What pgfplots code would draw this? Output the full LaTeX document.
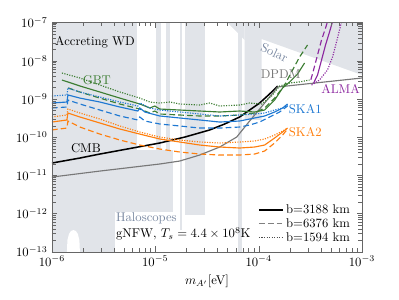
\documentclass[border=0pt]{standalone}
\usepackage{pgfplots}
\pgfplotsset{compat=1.18}
\definecolor{regfill}{RGB}{225,228,233}
\definecolor{gbt}{RGB}{60,125,50}
\definecolor{ska1}{RGB}{30,120,210}
\definecolor{ska2}{RGB}{255,127,14}
\definecolor{alma}{RGB}{140,40,160}
\definecolor{dpdm}{RGB}{120,120,120}
\definecolor{slate}{RGB}{120,135,160}
\begin{document}
\begin{tikzpicture}
\begin{axis}[name=ax, at={(0,0)}, anchor=south west, scale only axis,
 width=244.7pt, height=180.8pt,
 xmode=log, ymode=log, xmin=1e-6, xmax=1e-3, ymin=1e-13, ymax=1e-7,
 ytick={1e-13,1e-12,1e-11,1e-10,1e-9,1e-8,1e-7},
 xtick={1e-6,1e-5,1e-4,1e-3},
 axis on top,
 axis line style={black!60}, tick style={black!60},
 xlabel={$m_{A'}$[eV]},
 legend style={draw=none, fill=none, at={(0.982,0.015)}, anchor=south east, row sep=-1.5pt},
 legend cell align=left,
 legend image code/.code={\draw[#1] (0pt,0pt) -- (19pt,0pt);},
 gbtl/.style={gbt, line width=0.9pt},
 ska1l/.style={ska1, line width=0.9pt},
 ska2l/.style={ska2, line width=0.9pt},
 almal/.style={alma, line width=0.9pt},
 dsh/.style={dash pattern=on 4.5pt off 2.5pt},
 dtt/.style={dash pattern=on 0.9pt off 1.1pt},
]
% ---- excluded regions
\addplot[fill=regfill, draw=none, forget plot] coordinates {(1e-6,1e-7) (4.06e-6,1e-7) (4.06e-6,1e-13) (1e-6,1e-13)} -- cycle;
\addplot[fill=regfill, draw=none, forget plot] coordinates {(4.06e-6,1e-7) (6.62e-6,1e-7) (6.62e-6,1.10e-12) (4.06e-6,1.10e-12)} -- cycle;
\addplot[fill=regfill, draw=none, forget plot] coordinates {(6.62e-6,4.63e-11) (1.476e-5,4.63e-11) (1.476e-5,1.10e-12) (6.62e-6,1.10e-12)} -- cycle;
\addplot[fill=regfill, draw=none, forget plot] coordinates {(1.011e-5,1e-7) (1.130e-5,1e-7) (1.130e-5,1.1e-12) (1.011e-5,1.1e-12)} -- cycle;
\addplot[fill=regfill, draw=none, forget plot] coordinates {(1.263e-5,1e-7) (1.380e-5,1e-7) (1.380e-5,1.1e-12) (1.263e-5,1.1e-12)} -- cycle;
\addplot[fill=regfill, draw=none, forget plot] coordinates {(1.724e-5,1e-7) (1.803e-5,1e-7) (1.803e-5,3.7e-13) (1.724e-5,3.7e-13)} -- cycle;
\addplot[fill=regfill, draw=none, forget plot] coordinates {(1.928e-5,1e-7) (3.008e-5,1e-7) (3.008e-5,9.16e-13) (1.928e-5,9.16e-13)} -- cycle;
\addplot[fill=regfill, draw=none, forget plot] coordinates {(6.27e-5,1e-7) (6.85e-5,1e-7) (6.85e-5,1e-13) (6.27e-5,1e-13)} -- cycle;
\addplot[fill=regfill, draw=none, forget plot] coordinates {(5.02e-5,1e-7) (7.32e-5,1e-7) (7.32e-5,3.52e-8)} -- cycle;
\addplot[fill=regfill, draw=none, forget plot] coordinates {(7.32e-5,1e-7) (1e-3,1e-7) (1e-3,4.27e-9) (1.069e-4,3.74e-8) (1.069e-4,2.83e-10) (7.32e-5,2.83e-10)} -- cycle;
% white arch
\addplot[fill=white, draw=none, forget plot] coordinates {(1.396e-6,1e-13) (1.412e-6,2.03e-13) (1.460e-6,2.91e-13) (1.526e-6,3.49e-13) (1.613e-6,3.71e-13) (1.705e-6,3.49e-13) (1.783e-6,2.91e-13) (1.843e-6,2.03e-13) (1.864e-6,1e-13)} -- cycle;
% ---- CMB and DPDM
\addplot[black, line width=1.2pt, forget plot] coordinates {(1e-6,2.11e-11) (1.864e-6,2.85e-11) (2.909e-6,3.63e-11) (5.67e-6,5.06e-11) (1.105e-5,7.06e-11) (1.928e-5,1.01e-10) (3.362e-5,1.55e-10) (4.69e-5,2.22e-10) (6.55e-5,3.39e-10) (8.18e-5,5.16e-10) (1.023e-4,7.87e-10) (1.277e-4,1.36e-9) (1.527e-4,2.20e-9)};
\addplot[dpdm, line width=0.9pt, forget plot] coordinates {(1e-6,9.06e-12) (2.909e-6,1.30e-11) (1.105e-5,1.99e-11) (1.724e-5,2.38e-11) (2.69e-5,3.42e-11) (4.20e-5,5.54e-11) (6.13e-5,1.01e-10) (8.18e-5,2.66e-10) (1.143e-4,7.87e-10) (1.527e-4,2.07e-9) (1e-3,3.56e-9)};
% ---- GBT
\addplot[gbtl, forget plot] coordinates {(1.249e-6,3.15e-9) (1.428e-6,2.80e-9) (1.864e-6,2.20e-9) (2.909e-6,1.53e-9) (4.54e-6,1.06e-9) (7.08e-6,7.42e-10) (8.85e-6,5.83e-10) (9.89e-6,6.57e-10) (1.105e-5,5.48e-10) (1.724e-5,5.16e-10) (2.69e-5,4.86e-10) (4.20e-5,4.58e-10) (6.55e-5,4.86e-10) (9.15e-5,4.58e-10) (1.143e-4,5.16e-10) (1.428e-4,9.43e-10) (1.706e-4,1.95e-9) (1.994e-4,2.80e-9) (2.381e-4,4.53e-9) (2.782e-4,8.79e-9)};
\addplot[gbtl, dsh, forget plot] coordinates {(1.428e-6,1.95e-9) (1.864e-6,1.53e-9) (2.909e-6,1.06e-9) (4.54e-6,7.42e-10) (7.08e-6,5.48e-10) (8.85e-6,4.31e-10) (9.89e-6,4.86e-10) (1.105e-5,4.06e-10) (1.724e-5,3.82e-10) (2.69e-5,3.60e-10) (4.20e-5,3.60e-10) (6.55e-5,3.82e-10) (9.15e-5,4.31e-10) (1.143e-4,5.83e-10) (1.428e-4,1.06e-9) (1.783e-4,2.33e-9) (2.131e-4,5.77e-9) (2.490e-4,1.263e-8) (2.974e-4,2.61e-8)};
\addplot[gbtl, dtt, forget plot] coordinates {(1.249e-6,4.81e-9) (1.864e-6,3.56e-9) (2.909e-6,2.33e-9) (4.54e-6,1.53e-9) (7.08e-6,1.06e-9) (8.85e-6,8.36e-10) (1.105e-5,7.87e-10) (1.380e-5,8.36e-10) (1.724e-5,7.42e-10) (2.69e-5,6.98e-10) (3.362e-5,7.87e-10) (4.20e-5,6.57e-10) (6.55e-5,6.98e-10) (8.18e-5,7.87e-10) (1.069e-4,7.42e-10) (1.335e-4,1.20e-9) (1.596e-4,2.20e-9) (1.994e-4,2.63e-9) (2.490e-4,2.80e-9) (3.11e-4,3.15e-9)};
% ---- SKA1
\addplot[ska1l, forget plot] coordinates {(1e-6,7.87e-10) (1.396e-6,8.36e-10) (1.428e-6,1.28e-9) (1.864e-6,1.06e-9) (2.909e-6,8.36e-10) (4.54e-6,6.19e-10) (6.78e-6,4.86e-10) (7.08e-6,5.83e-10) (7.92e-6,4.58e-10) (1.105e-5,3.60e-10) (1.724e-5,3.19e-10) (2.69e-5,2.83e-10) (4.20e-5,2.50e-10) (6.55e-5,2.66e-10) (9.15e-5,3.19e-10) (1.143e-4,3.60e-10) (1.428e-4,4.58e-10) (1.706e-4,5.83e-10) (1.905e-4,7.42e-10)};
\addplot[ska1l, dsh, forget plot] coordinates {(1e-6,5.83e-10) (1.396e-6,6.19e-10) (1.428e-6,9.43e-10) (1.864e-6,7.42e-10) (2.909e-6,5.16e-10) (4.54e-6,3.60e-10) (6.78e-6,2.83e-10) (7.08e-6,3.39e-10) (7.92e-6,2.66e-10) (1.105e-5,2.22e-10) (1.724e-5,1.97e-10) (2.69e-5,1.74e-10) (4.20e-5,1.74e-10) (6.55e-5,1.85e-10) (8.18e-5,2.09e-10) (1.023e-4,2.50e-10) (1.277e-4,3.39e-10) (1.596e-4,4.58e-10) (1.905e-4,6.57e-10)};
\addplot[ska1l, dtt, forget plot] coordinates {(1e-6,1.20e-9) (1.396e-6,1.28e-9) (1.428e-6,1.95e-9) (1.864e-6,1.53e-9) (2.909e-6,1.13e-9) (4.54e-6,8.36e-10) (6.78e-6,6.57e-10) (7.08e-6,7.87e-10) (8.85e-6,5.83e-10) (1.105e-5,5.16e-10) (1.724e-5,4.58e-10) (2.69e-5,4.06e-10) (4.20e-5,3.60e-10) (6.55e-5,3.82e-10) (9.15e-5,4.06e-10) (1.143e-4,4.31e-10) (1.428e-4,5.16e-10) (1.706e-4,5.83e-10) (1.905e-4,6.98e-10)};
% ---- SKA2
\addplot[ska2l, forget plot] coordinates {(1e-6,2.50e-10) (1.396e-6,2.83e-10) (1.428e-6,4.31e-10) (1.864e-6,3.39e-10) (2.909e-6,2.36e-10) (4.54e-6,1.64e-10) (7.08e-6,1.21e-10) (1.105e-5,8.98e-11) (1.724e-5,7.50e-11) (2.69e-5,6.25e-11) (4.20e-5,5.54e-11) (6.55e-5,5.22e-11) (9.15e-5,5.54e-11) (1.143e-4,6.25e-11) (1.428e-4,9.55e-11) (1.706e-4,1.37e-10) (1.905e-4,1.74e-10)};
\addplot[ska2l, dsh, forget plot] coordinates {(1e-6,1.55e-10) (1.396e-6,1.74e-10) (1.428e-6,2.66e-10) (1.864e-6,1.85e-10) (2.909e-6,1.21e-10) (4.54e-6,8.46e-11) (7.08e-6,6.25e-11) (1.105e-5,4.91e-11) (1.724e-5,4.10e-11) (2.69e-5,3.63e-11) (4.20e-5,3.42e-11) (6.55e-5,3.42e-11) (9.15e-5,3.63e-11) (1.143e-4,4.35e-11) (1.428e-4,7.06e-11) (1.706e-4,1.14e-10) (1.905e-4,1.64e-10)};
\addplot[ska2l, dtt, forget plot] coordinates {(1e-6,3.39e-10) (1.396e-6,3.82e-10) (1.428e-6,5.48e-10) (1.864e-6,4.31e-10) (2.909e-6,3.00e-10) (4.54e-6,1.97e-10) (7.08e-6,1.37e-10) (1.105e-5,1.01e-10) (1.724e-5,8.46e-11) (2.69e-5,7.50e-11) (4.20e-5,7.06e-11) (6.55e-5,7.50e-11) (9.15e-5,7.96e-11) (1.143e-4,8.98e-11) (1.428e-4,1.14e-10) (1.706e-4,1.45e-10) (1.905e-4,1.74e-10)};
% ---- ALMA
\addplot[almal, forget plot] coordinates {(3.40e-4,2.6e-9) (3.715e-4,4.27e-9) (4.06e-4,1.05e-8) (4.44e-4,2.61e-8) (4.85e-4,5.71e-8) (5.3e-4,1.3e-7)};
\addplot[almal, dsh, forget plot] coordinates {(3.20e-4,3.2e-9) (3.40e-4,5.77e-9) (3.715e-4,1.43e-8) (4.06e-4,3.52e-8) (4.44e-4,7.26e-8) (4.7e-4,1.2e-7)};
\addplot[almal, dtt, forget plot] coordinates {(3.252e-4,2.33e-9) (3.88e-4,3.15e-9) (4.64e-4,5.77e-9) (5.19e-4,1.263e-8) (5.67e-4,3.12e-8) (6.06e-4,6.43e-8) (6.4e-4,1.2e-7)};
% ---- legend
\addlegendimage{black, line width=0.9pt}
\addlegendentry{b=3188 km}
\addlegendimage{black!50, line width=0.9pt, dsh}
\addlegendentry{b=6376 km}
\addlegendimage{black!70, line width=0.9pt, dtt}
\addlegendentry{b=1594 km}
% ---- labels
\node[anchor=west, inner sep=0pt] at (axis cs:1.069e-6,3.12e-8) {Accreting WD};
\node[inner sep=0pt, text=gbt] at (axis cs:2.72e-6,3.15e-9) {GBT};
\node[inner sep=0pt] at (axis cs:2.13e-6,5.22e-11) {CMB};
\node[inner sep=0pt, text=slate, rotate=-25] at (axis cs:1.42e-4,1.65e-8) {Solar};
\node[inner sep=0pt, text=dpdm] at (axis cs:1.632e-4,4.4e-9) {DPDM};
\node[inner sep=0pt, text=alma] at (axis cs:6.20e-4,1.83e-9) {ALMA};
\node[anchor=west, inner sep=0pt, text=ska1] at (axis cs:1.95e-4,5.48e-10) {SKA1};
\node[anchor=west, inner sep=0pt, text=ska2] at (axis cs:1.95e-4,1.37e-10) {SKA2};
\node[anchor=west, inner sep=0pt, text=slate] at (axis cs:4.15e-6,7.64e-13) {Haloscopes};
\node[anchor=west, inner sep=0pt] at (axis cs:4.15e-6,2.91e-13) {gNFW, $T_s = 4.4\times 10^8$K};
\node at (rel axis cs:0,0.545) [xshift=-20pt] {$\kappa$};
\end{axis}
\path (-41pt,-37.3pt) rectangle (273.9pt,198.7pt);
\end{tikzpicture}
\end{document}
